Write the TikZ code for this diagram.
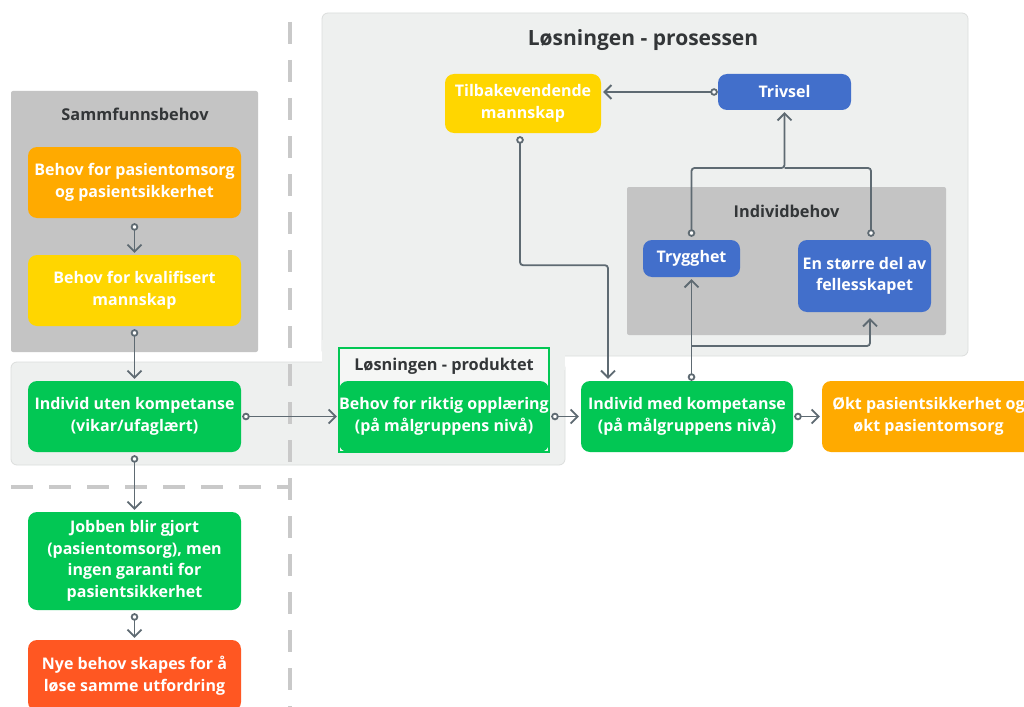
\documentclass[tikz,border=0pt]{standalone}
\usepackage{fontspec}
\setmainfont{Open Sans}
\usetikzlibrary{arrows.meta}
\definecolor{cgreen}{HTML}{02C754}
\definecolor{corange}{HTML}{FFAA00}
\definecolor{cyellow}{HTML}{FFD600}
\definecolor{cred}{HTML}{FF5722}
\definecolor{cblue}{HTML}{426FCB}
\definecolor{cgray}{HTML}{C4C4C4}
\definecolor{panel}{HTML}{EEF0EF}
\definecolor{panelb}{HTML}{DCDEDD}
\definecolor{cline}{HTML}{5E6A72}
\definecolor{ctitle}{HTML}{333638}
\definecolor{cdash}{HTML}{C9C9C9}
\begin{document}
\begin{tikzpicture}[x=1pt,y=-1pt,
  box/.style={rounded corners=9pt, text=white, font=\bfseries\fontsize{16}{21.5}\selectfont, align=center, inner sep=0pt},
  grp/.style={rounded corners=2pt, fill=cgray, inner sep=0pt},
  ttl/.style={text=ctitle, font=\bfseries\fontsize{16.3}{19}\selectfont, inner sep=0pt},
  conn/.style={draw=cline, line width=1.8pt, rounded corners=3pt,
     {Circle[length=7.5pt,width=7.5pt,fill=white]}-{Straight Barb[length=7pt,width=14pt]},
     shorten <=3pt, shorten >=2pt},
  connn/.style={draw=cline, line width=1.8pt, rounded corners=3pt,
     -{Straight Barb[length=7pt,width=14pt]}, shorten >=2pt},
  conc/.style={draw=cline, line width=1.8pt, rounded corners=3pt,
     {Circle[length=7.5pt,width=7.5pt,fill=white]}-, shorten <=3pt},
  dsh/.style={draw=cdash, line width=4pt, dash pattern=on 22pt off 16pt}
]
\useasboundingbox[fill=white] (0,0) rectangle (1024,706);

% panels
\node[rounded corners=6pt, fill=panel, draw=panelb, line width=0.8pt, minimum width=646pt, minimum height=343pt, inner sep=0pt] (proc) at (645,184.5) {};
\node[rounded corners=6pt, fill=panel, draw=panelb, line width=0.8pt, minimum width=554pt, minimum height=103pt, inner sep=0pt] (band) at (288,413.5) {};
\fill[panel] (322.4,340) rectangle (564.6,370);
\node[ttl, font=\bfseries\fontsize{21}{25}\selectfont] (proctitle) at (643,40) {Løsningen - prosessen};

% dashed separators
\draw[dsh] (290,22) -- (290,720);
\draw[dsh] (11,487) -- (288,487);

% group boxes
\node[grp, minimum width=247pt, minimum height=261pt] (samf) at (134.5,221.5) {};
\node[ttl] (samftitle) at (135,114) {Sammfunnsbehov};
\node[grp, minimum width=319pt, minimum height=148pt] (indb) at (786.5,261) {};
\node[ttl] (indbtitle) at (786.5,211) {Individbehov};

% produktet frame
\node[draw=cgreen, line width=1.5pt, fill=panel!60!white, minimum width=210pt, minimum height=104pt, inner sep=0pt] (prod) at (444,400) {};
\node[ttl] (prodtitle) at (444,366) {Løsningen - produktet};

% nodes
\node[box, fill=corange, minimum width=213pt, minimum height=71pt] (pas) at (134.5,182.5) {Behov for pasientomsorg\\og pasientsikkerhet};
\node[box, fill=cyellow, minimum width=213pt, minimum height=71pt] (kval) at (134.5,290.5) {Behov for kvalifisert\\mannskap};
\node[box, fill=cgreen, minimum width=213pt, minimum height=71pt] (uten) at (134.5,416.5) {Individ uten kompetanse\\(vikar/ufaglært)};
\node[box, fill=cgreen, minimum width=213pt, minimum height=98pt] (jobb) at (134.5,561) {Jobben blir gjort\\(pasientomsorg), men\\ingen garanti for\\pasientsikkerhet};
\node[box, fill=cred, minimum width=213pt, minimum height=71pt] (nye) at (134.5,675.5) {Nye behov skapes for å\\løse samme utfordring};
\node[box, fill=cgreen, minimum width=210pt, minimum height=71pt] (riktig) at (444,416.5) {Behov for riktig opplæring\\(på målgruppens nivå)};
\node[box, fill=cgreen, minimum width=212pt, minimum height=71pt] (med) at (687,416.5) {Individ med kompetanse\\(på målgruppens nivå)};
\node[box, fill=corange, minimum width=213pt, minimum height=71pt] (okt) at (928.5,416.5) {Økt pasientsikkerhet og\\økt pasientomsorg};
\node[box, fill=cyellow, minimum width=156pt, minimum height=59pt] (tilb) at (523,103.5) {Tilbakevendende\\mannskap};
\node[box, fill=cblue, minimum width=133pt, minimum height=36pt] (triv) at (784.5,92) {Trivsel};
\node[box, fill=cblue, minimum width=97pt, minimum height=37pt] (trygg) at (691.5,258.5) {Trygghet};
\node[box, fill=cblue, minimum width=133pt, minimum height=72pt] (fell) at (864.5,276) {En større del av\\fellesskapet};

% connectors
\draw[conn, shorten <=5pt] (pas.south) -- (kval.north);
\draw[conn] (kval.south) -- (uten.north);
\draw[conn, shorten <=1pt] (uten.east) -- (riktig.west);
\draw[conn] (uten.south) -- (jobb.north);
\draw[conn] (jobb.south) -- (nye.north);
\draw[conn, shorten <=2pt] (riktig.east) -- (med.west);
\draw[conn, shorten <=1pt] (med.east) -- (okt.west);
\draw[conn, shorten <=0pt] (triv.west) -- (triv.west -| tilb.east);
\draw[conn] ([xshift=-3pt]tilb.south) -- ++(0,132) -| ([xshift=-79pt]med.north);
\draw[conn, shorten <=0pt] (trygg.south |- med.north) -- (trygg.south);
\coordinate (br) at (691.5,346);
\draw[connn, shorten >=6pt] (br) -| ([xshift=5.5pt]fell.south);
\coordinate (jn) at (784.5,168);
\draw[conn] (trygg.north) |- (jn) -- (triv.south);
\draw[conc] ([xshift=6.5pt]fell.north) |- (jn);
\end{tikzpicture}
\end{document}
